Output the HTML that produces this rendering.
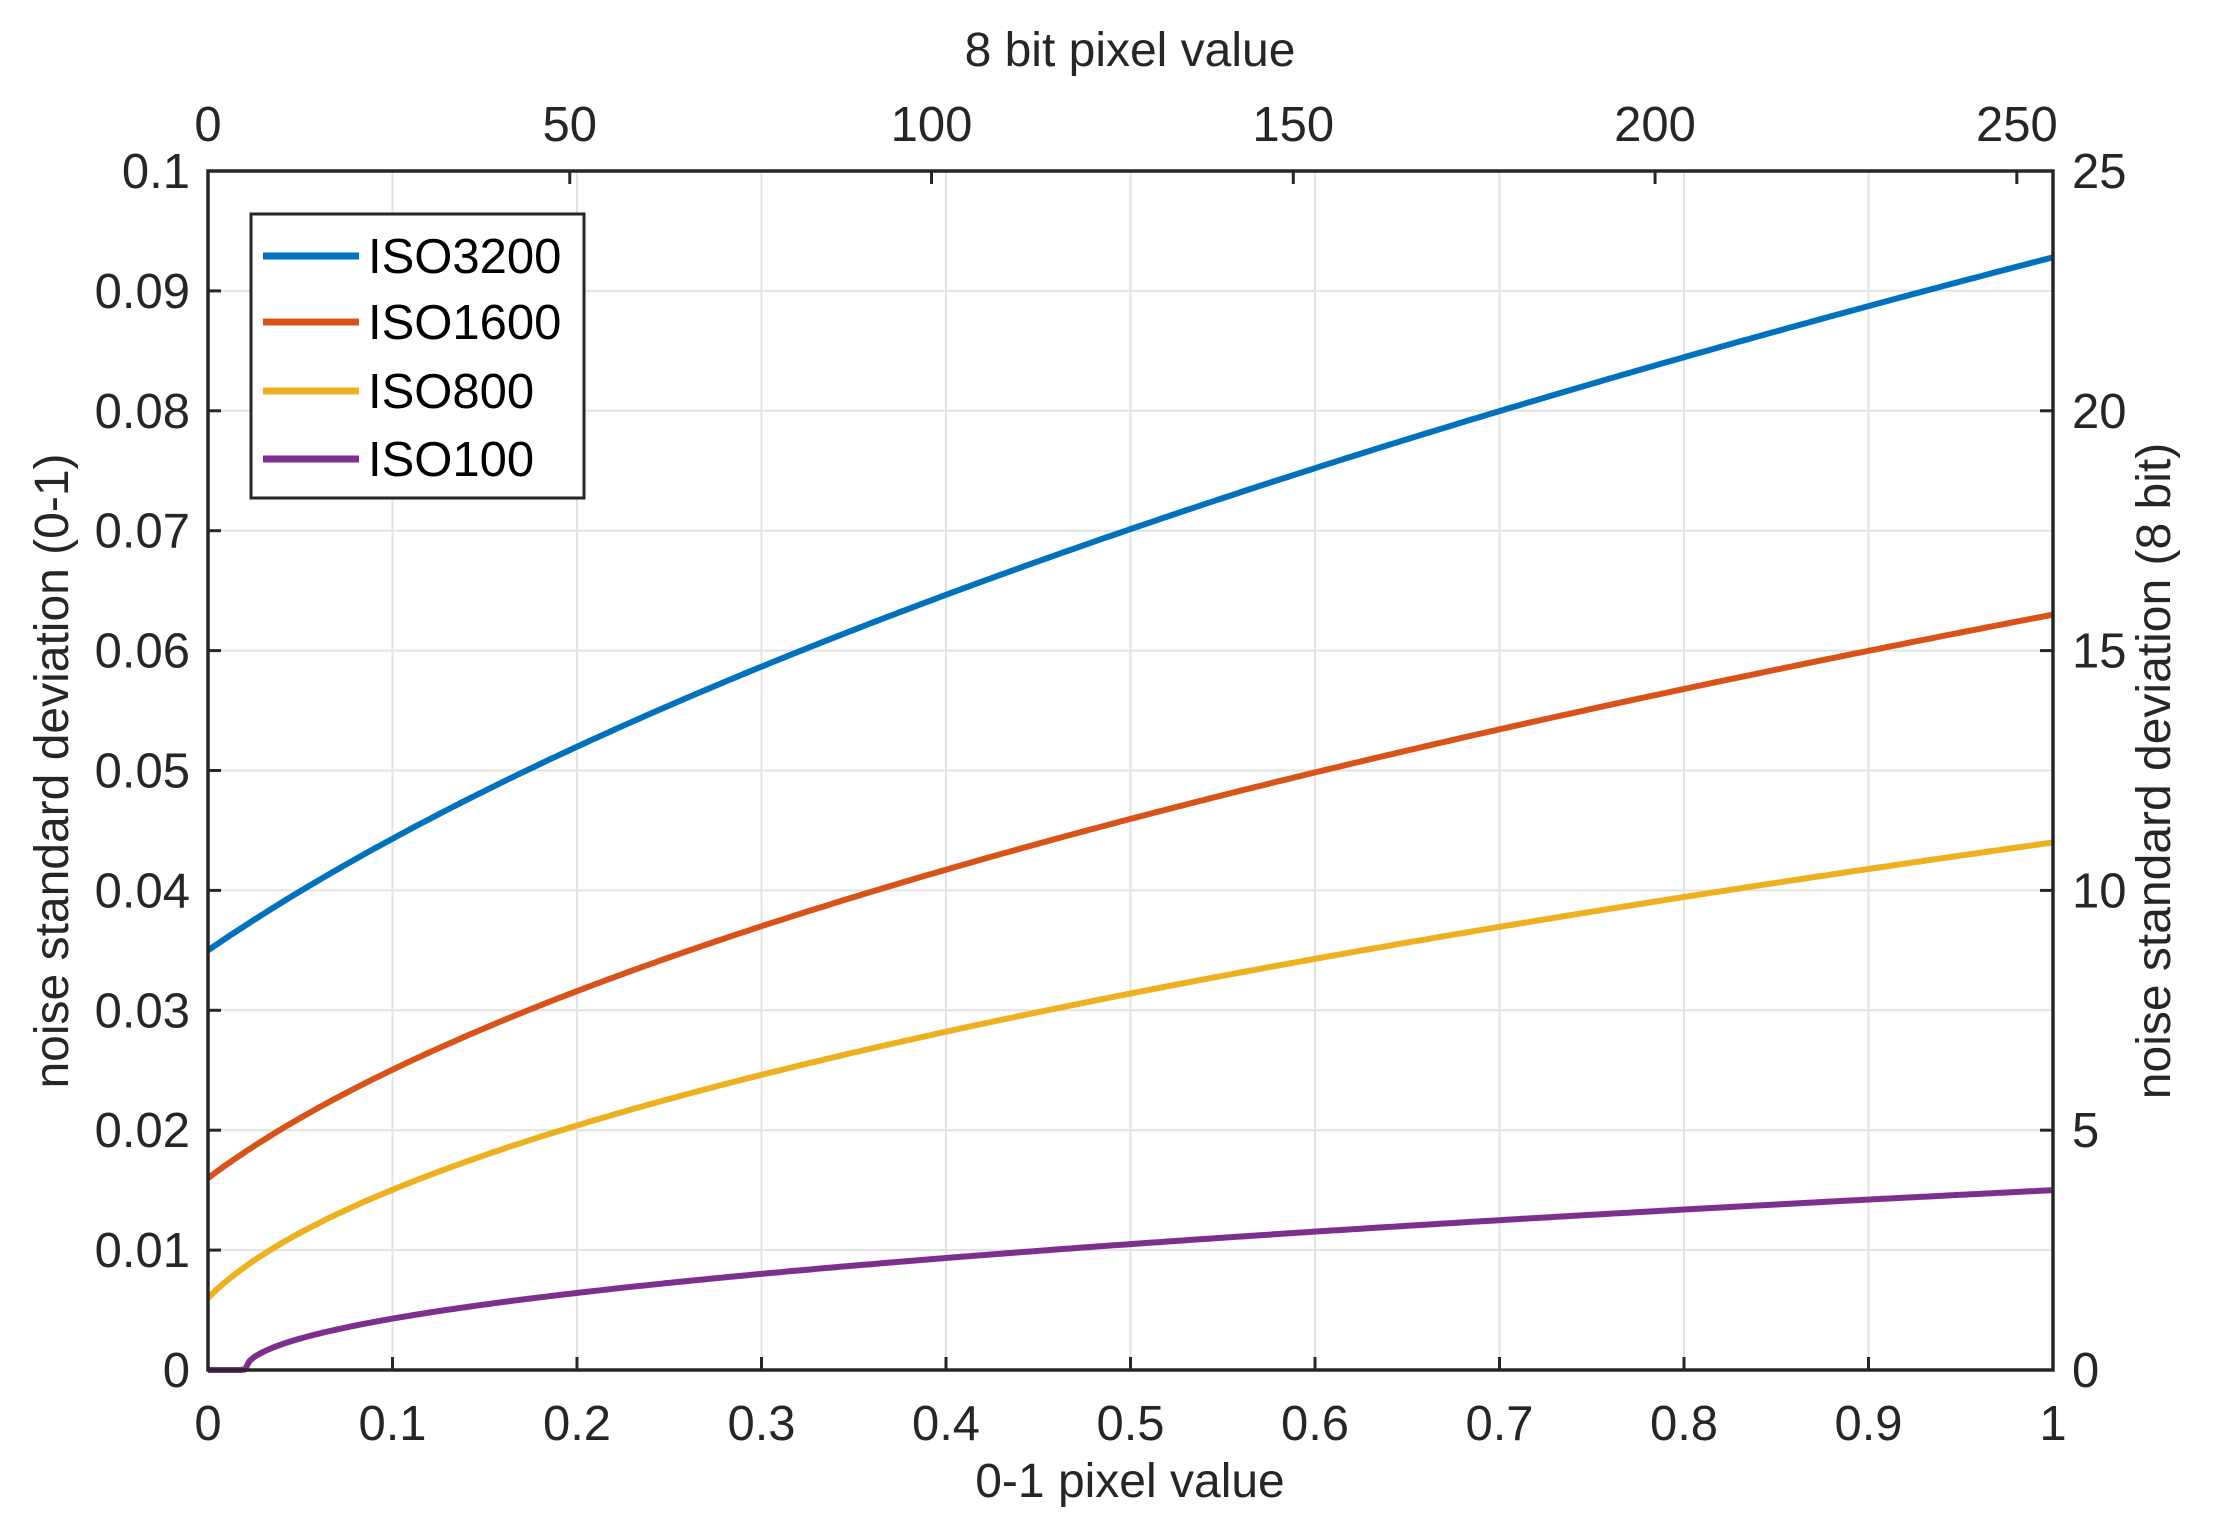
<!DOCTYPE html>
<html><head><meta charset="utf-8"><style>
html,body{margin:0;padding:0;background:#fff;}
svg{display:block;}
text{font-family:"Liberation Sans",Arial,sans-serif;fill:#262626;}
</style></head><body>
<svg id="s" width="2226" height="1528" xmlns="http://www.w3.org/2000/svg">
<g id="grid" stroke="#e3e3e3" stroke-width="2"></g>
<g id="curves" fill="none" stroke-width="6" stroke-linejoin="round"></g>
<rect x="208" y="171" width="1845" height="1199" fill="none" stroke="#262626" stroke-width="3.5"/>
<g id="ticks" stroke="#262626" stroke-width="3"></g>
<g id="labels" font-size="49"></g>
<text x="1130" y="66" font-size="48" text-anchor="middle">8 bit pixel value</text>
<text x="1130" y="1497" font-size="48" text-anchor="middle">0-1 pixel value</text>
<text transform="translate(68,771) rotate(-90)" font-size="48" text-anchor="middle">noise standard deviation (0-1)</text>
<text transform="translate(2170,771) rotate(-90)" font-size="48" text-anchor="middle">noise standard deviation (8 bit)</text>
<rect x="251" y="214" width="333" height="284" fill="#fff" stroke="#262626" stroke-width="3"/>
<g stroke-width="7">
<line x1="263" y1="256" x2="359" y2="256" stroke="#0072BD"/>
<line x1="263" y1="322" x2="359" y2="322" stroke="#D95319"/>
<line x1="263" y1="391" x2="359" y2="391" stroke="#EDB120"/>
<line x1="263" y1="459" x2="359" y2="459" stroke="#7E2F8E"/>
</g>
<g font-size="49">
<text x="368" y="273" style="fill:#000">ISO3200</text>
<text x="368" y="339" style="fill:#000">ISO1600</text>
<text x="368" y="408" style="fill:#000">ISO800</text>
<text x="368" y="476" style="fill:#000">ISO100</text>
</g>
</svg>
<script>
var L=208,R=2053,T=171,B=1370,W=R-L,H=B-T,NS="http://www.w3.org/2000/svg";
function X(v){return L+v*W;}function Y(v){return B-v/0.1*H;}
function el(p,t,a,txt){var e=document.createElementNS(NS,t);for(var k in a)e.setAttribute(k,a[k]);if(txt!==undefined)e.textContent=txt;document.getElementById(p).appendChild(e);}
for(var i=1;i<10;i++){var x=X(i/10);el("grid","line",{x1:x,y1:T,x2:x,y2:B});var y=Y(i/100);el("grid","line",{x1:L,y1:y,x2:R,y2:y});}
var tl=13;
for(var i=0;i<=10;i++){var x=X(i/10);el("ticks","line",{x1:x,y1:B,x2:x,y2:B-tl});
el("labels","text",{x:x,y:1440,"text-anchor":"middle"},i==0?"0":i==10?"1":(i/10).toFixed(1));
var y=Y(i/100);el("ticks","line",{x1:L,y1:y,x2:L+tl,y2:y});
el("labels","text",{x:190,y:y+17,"text-anchor":"end"},i==0?"0":i==10?"0.1":(i/100).toFixed(2));}
for(var v=0;v<=250;v+=50){var x=L+v/255*W;el("ticks","line",{x1:x,y1:T,x2:x,y2:T+tl});el("labels","text",{x:x,y:141,"text-anchor":"middle"},""+v);}
for(var v=0;v<=25;v+=5){var y=B-v/25*H;el("ticks","line",{x1:R,y1:y,x2:R-tl,y2:y});el("labels","text",{x:2072,y:y+17,"text-anchor":"start"},""+v);}
var S=[["#0072BD",0.007387,0.001225],["#D95319",0.003713,0.000256],["#EDB120",0.0019,0.000036],["#7E2F8E",0.0002296,-0.00000459]];
S.forEach(function(s){var d="";for(var i=0;i<=400;i++){var x=i/400;var v=Math.sqrt(Math.max(0,s[1]*x+s[2]));d+=(i?"L":"M")+X(x).toFixed(1)+" "+Y(v).toFixed(1);}
el("curves","path",{d:d,stroke:s[0]});});
</script>
</body></html>
